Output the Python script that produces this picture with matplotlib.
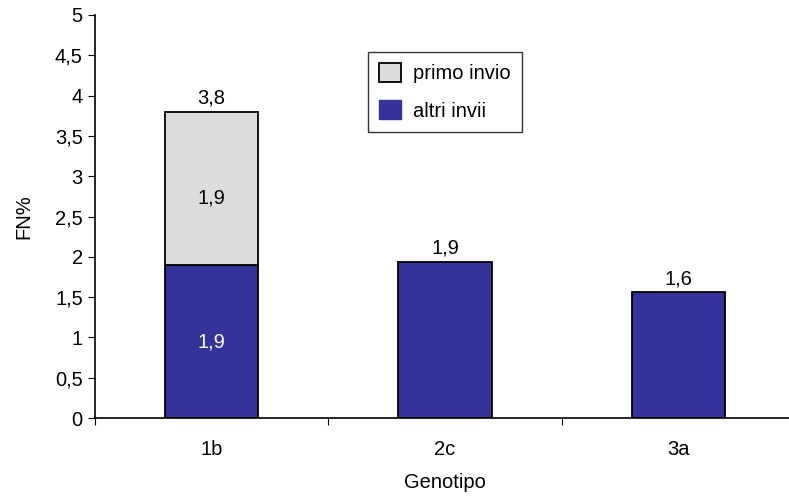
import matplotlib
matplotlib.use("Agg")
import matplotlib.pyplot as plt
from matplotlib.patches import Patch

plt.rcParams["font.family"] = ["Liberation Sans", "DejaVu Sans"]

genotypes = ["1b", "2c", "3a"]
altri_invii = [1.9, 1.94, 1.56]
primo_invio = [1.9, 0.0, 0.0]
top_labels = ["3,8", "1,9", "1,6"]
y_ticks = [0, 0.5, 1, 1.5, 2, 2.5, 3, 3.5, 4, 4.5, 5]

blue = "#333399"
grey = "#DDDDDD"
fs = 14.5

fig = plt.figure(figsize=(7.89, 4.96), dpi=100)
ax = fig.add_axes([0.120, 0.157, 0.888, 0.813])

x = list(range(len(genotypes)))
width = 0.4

ax.bar(x, altri_invii, width, color=blue, edgecolor="black", linewidth=1.3, zorder=2)
has_primo = [i for i, v in enumerate(primo_invio) if v > 0]
ax.bar([x[i] for i in has_primo], [primo_invio[i] for i in has_primo], width,
       bottom=[altri_invii[i] for i in has_primo], color=grey,
       edgecolor="black", linewidth=1.3, zorder=2)

# segment labels inside the stacked bar
for i in has_primo:
    ax.text(x[i], altri_invii[i] / 2, f"{altri_invii[i]:.1f}".replace(".", ","),
            ha="center", va="center", color="white", fontsize=fs)
    ax.text(x[i], altri_invii[i] + primo_invio[i] / 2 - 0.12,
            f"{primo_invio[i]:.1f}".replace(".", ","),
            ha="center", va="center", color="black", fontsize=fs)

# totals above bars
for i in x:
    total = altri_invii[i] + primo_invio[i]
    ax.annotate(top_labels[i], (x[i], total), xytext=(0, 3),
                textcoords="offset points", ha="center", va="bottom",
                fontsize=fs)

ax.set_xlim(-0.5, 2.5)
ax.set_ylim(0, 5)
ax.set_yticks(y_ticks)
ax.set_yticklabels([("%g" % t).replace(".", ",") for t in y_ticks])

ax.set_xticks([-0.5, 0.5, 1.5, 2.5])
ax.set_xticklabels([])
ax.set_xticks(x, minor=True)
ax.set_xticklabels(genotypes, minor=True)
ax.tick_params(axis="x", which="minor", length=0, pad=15.5, labelsize=fs)
ax.tick_params(axis="x", which="major", length=5, direction="out")
ax.tick_params(axis="y", length=5, direction="out", labelsize=fs, pad=3.5)

for side in ["top", "right"]:
    ax.spines[side].set_visible(False)
ax.spines["left"].set_linewidth(1.2)
ax.spines["bottom"].set_linewidth(1.2)

ax.set_ylabel("FN%", fontsize=fs)
ax.yaxis.set_label_coords(-0.087, 0.5)
ax.set_xlabel("Genotipo", fontsize=fs, labelpad=10)

handles = [Patch(facecolor=grey, edgecolor="black", linewidth=1.3, label="primo invio"),
           Patch(facecolor=blue, edgecolor=blue, label="altri invii")]
leg = ax.legend(handles=handles, loc="upper left", bbox_to_anchor=(0.39, 0.908),
                borderaxespad=0, frameon=True, fancybox=False, edgecolor="black",
                fontsize=fs, handlelength=1.08, handleheight=1.05,
                labelspacing=0.85, borderpad=0.55, handletextpad=0.6)
leg.get_frame().set_linewidth(1.0)

fig.savefig("out.png", dpi=100)
